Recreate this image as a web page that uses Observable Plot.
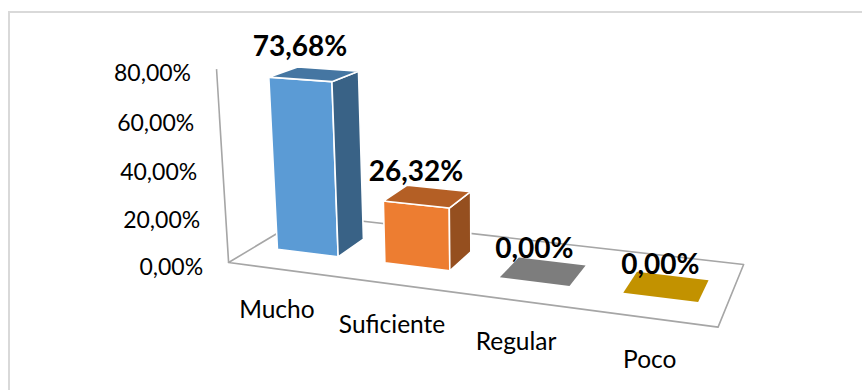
<!DOCTYPE html>
<html><head><meta charset="utf-8">
<script src="https://cdn.jsdelivr.net/npm/d3@7"></script>
<script src="https://cdn.jsdelivr.net/npm/@observablehq/plot@0.6"></script>
<style>
html,body{margin:0;padding:0;background:#fff;}
#frame{position:absolute;left:8px;top:11px;width:900px;height:400px;border-left:2px solid #d9d9d9;border-top:2px solid #d9d9d9;}
#chart{position:absolute;left:0;top:0;}
</style></head><body>
<div id="frame"></div>
<div id="chart"></div>
<script>
const categories = ["Mucho", "Suficiente", "Regular", "Poco"];
const values = [73.68, 26.32, 0, 0];
const valueLabels = ["73,68%", "26,32%", "0,00%", "0,00%"];
const yTicks = [0, 20, 40, 60, 80];
const yTickLabels = ["0,00%", "20,00%", "40,00%", "60,00%", "80,00%"];
const colors = ["#5B9BD5", "#ED7D31", "#A5A5A5", "#FFC000"];

// 3-D view settings (camera and box proportions, in band-scale units)
const CAM = {yaw: 0.342, pitch: 0.2672, dist: 9.266, focal: 1154.3, cx: 485.5, cy: 168.8,
  inset: 0.2133, barFront: 0.4282, barBack: 0.9167, depth: 1.3745, unit: 0.02016, aspect: 1};

const rows = categories.map((cat, i) => ({cat, val: values[i], label: valueLabels[i], color: colors[i]}));
const shade = (c, f) => { const r = d3.rgb(c); return d3.rgb(r.r * f, r.g * f, r.b * f).formatHex(); };

function scene(_index, scales) {
  const index = d3.range(rows.length);
  const x = scales.x, y = scales.y;
  const bw = x.bandwidth();
  const [xr0, xr1] = x.range();
  const Tx = (xr0 + xr1) / 2, Ty = (y.range()[0] + y.range()[1]) / 2, Tz = CAM.depth / 2;
  const ca = Math.cos(CAM.yaw), sa = Math.sin(CAM.yaw), ce = Math.cos(CAM.pitch), se = Math.sin(CAM.pitch);
  const P = (X, Y, Z) => {
    const rx = X - Tx, ry = Y - Ty, rz = Z - Tz;
    const x1 = rx * ca + rz * sa, z1 = -rx * sa + rz * ca;
    const y2 = ry * ce + z1 * se, z2 = -ry * se + z1 * ce;
    const w = CAM.dist + z2;
    return [CAM.cx + CAM.focal * x1 / w, CAM.cy - CAM.focal * CAM.aspect * y2 / w];
  };
  const poly = pts => "M" + pts.map(p => p[0].toFixed(2) + "," + p[1].toFixed(2)).join("L") + "Z";
  const g = d3.create("svg:g");
  const Y0 = y(0), D = CAM.depth;
  // floor outline
  g.append("path").attr("d", poly([P(xr0, Y0, 0), P(xr1, Y0, 0), P(xr1, Y0, D), P(xr0, Y0, D)]))
    .attr("fill", "none").attr("stroke", "#a6a6a6").attr("stroke-width", 1.6).attr("stroke-linejoin", "round");
  // vertical axis
  const yMax = d3.max(yTicks);
  g.append("path").attr("d", "M" + P(xr0, Y0, 0) + "L" + P(xr0, y(yMax), 0))
    .attr("stroke", "#a6a6a6").attr("stroke-width", 1.6).attr("fill", "none");
  yTicks.forEach((t, i) => {
    const p = P(xr0, y(t), 0);
    g.append("text").attr("x", p[0] - 25.5).attr("y", p[1] + 12.2)
      .attr("text-anchor", "end").attr("font-size", 23).attr("fill", "#000").text(yTickLabels[i]);
  });
  // bars
  index.forEach(i => {
    const r = rows[i];
    const X0 = x(r.cat), X1 = X0 + bw, Yt = y(r.val), Z0 = CAM.barFront, Z1 = CAM.barBack;
    const bar = g.append("g").attr("stroke", "#fff").attr("stroke-width", r.val > 0 ? 1.6 : 0).attr("stroke-linejoin", "round");
    if (r.val > 0) {
      bar.append("path").attr("d", poly([P(X0, Y0, Z0), P(X1, Y0, Z0), P(X1, Yt, Z0), P(X0, Yt, Z0)])).attr("fill", r.color);
      bar.append("path").attr("d", poly([P(X1, Y0, Z0), P(X1, Y0, Z1), P(X1, Yt, Z1), P(X1, Yt, Z0)])).attr("fill", shade(r.color, 0.63));
    }
    bar.append("path").attr("d", poly([P(X0, Yt, Z0), P(X1, Yt, Z0), P(X1, Yt, Z1), P(X0, Yt, Z1)])).attr("fill", shade(r.color, 0.76));
  });
  // category labels
  index.forEach(i => {
    const r = rows[i];
    const p = P(x(r.cat) + bw / 2, Y0, -0.2);
    g.append("text").attr("x", p[0] + 7).attr("y", p[1] + 40).attr("text-anchor", "middle")
      .attr("font-size", 24.5).attr("fill", "#000").text(r.cat);
  });
  // value labels
  index.forEach(i => {
    const r = rows[i];
    const p = P(x(r.cat) + bw / 2, y(r.val), CAM.barFront);
    g.append("text").attr("x", p[0]).attr("y", p[1] - 23.5).attr("text-anchor", "middle")
      .attr("font-size", 28).attr("font-weight", "bold").attr("fill", "#000").text(r.label);
  });
  return g.node();
}

const chart = Plot.plot({
  width: 862, height: 390, margin: 0,
  style: {background: "transparent", fontFamily: "Lato, 'Open Sans', sans-serif", overflow: "visible"},
  x: {type: "band", domain: categories, range: [0, 4], paddingInner: 2 * CAM.inset, paddingOuter: CAM.inset, round: false, axis: null},
  y: {type: "linear", domain: [0, d3.max(yTicks)], range: [0, d3.max(yTicks) * CAM.unit], axis: null},
  marks: [
    Plot.barY(rows, {x: "cat", y: "val", fill: "none"}),
    scene
  ]
});
document.getElementById("chart").appendChild(chart);
</script>
</body></html>
